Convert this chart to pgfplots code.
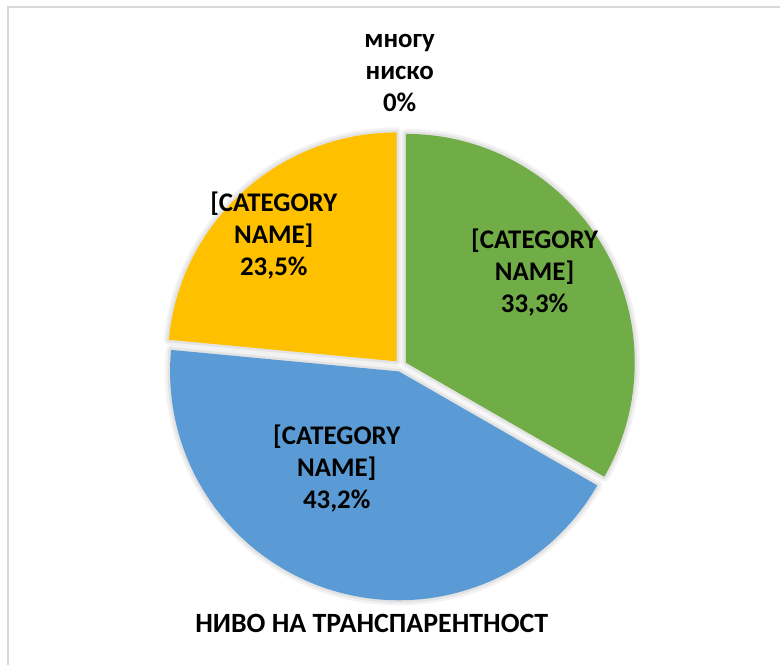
\documentclass[border=0pt]{standalone}
\usepackage{pgfplots}
\pgfplotsset{compat=1.18}
\usepackage{pgfplotstable}
\usepackage{fontspec}
\setmainfont{Carlito}

\definecolor{pieGreen}{HTML}{70AD47}
\definecolor{pieBlue}{HTML}{5B9BD5}
\definecolor{pieYellow}{HTML}{FFC000}
\definecolor{frameGray}{HTML}{D9D9D9}

% share of each level, percent (clockwise from 12 o'clock)
\pgfplotstableread{
value
0
33.3
43.2
23.5
}\piedata

\newcommand\getv[2]{\pgfplotstablegetelem{#1}{value}\of\piedata\edef#2{\pgfplotsretval}}
\getv{0}\vA \getv{1}\vB \getv{2}\vC \getv{3}\vD

% pie centre, radius and explode distance (axis units = px)
\def\cx{401}\def\cy{300}\def\rad{229}\def\expl{6}

\pgfmathsetmacro\sA{90}       \pgfmathsetmacro\eA{\sA-3.6*\vA}
\pgfmathsetmacro\sB{\eA}      \pgfmathsetmacro\eB{\sB-3.6*\vB}
\pgfmathsetmacro\sC{\eB}      \pgfmathsetmacro\eC{\sC-3.6*\vC}
\pgfmathsetmacro\sD{\eC}      \pgfmathsetmacro\eD{\sD-3.6*\vD}
\pgfmathsetmacro\xA{\cx+\expl*cos((\sA+\eA)/2)}\pgfmathsetmacro\yA{\cy+\expl*sin((\sA+\eA)/2)}
\pgfmathsetmacro\xB{\cx+\expl*cos((\sB+\eB)/2)}\pgfmathsetmacro\yB{\cy+\expl*sin((\sB+\eB)/2)}
\pgfmathsetmacro\xC{\cx+\expl*cos((\sC+\eC)/2)}\pgfmathsetmacro\yC{\cy+\expl*sin((\sC+\eC)/2)}
\pgfmathsetmacro\xD{\cx+\expl*cos((\sD+\eD)/2)}\pgfmathsetmacro\yD{\cy+\expl*sin((\sD+\eD)/2)}

\newcommand\pieslice[5]{%
  \path[#5] (axis cs:#1,#2) -- ++(#3:\rad bp)
    arc[start angle=#3, end angle=#4, radius=\rad bp] -- cycle;}
\newcommand\pct[1]{\pgfmathprintnumber[fixed,precision=1,use comma,assume math mode=true]{#1}\%}

\tikzset{
  shadowA/.style={draw=black!5, line width=10bp, line join=round},
  shadowB/.style={draw=black!11, line width=5bp, line join=round},
  lbl/.style={align=center, font=\bfseries\fontsize{27}{32}\selectfont, inner sep=0pt},
}

\begin{document}
\begin{tikzpicture}
\begin{axis}[
    x=1bp, y=1bp,
    xmin=0, xmax=781, ymin=0, ymax=666,
    hide axis, clip=false,
]
  \path (axis cs:0,0) rectangle (axis cs:781,666);
  % chart frame
  \draw[frameGray, line width=1.2bp] (axis cs:8,0) -- (axis cs:8,659) -- (axis cs:781,659);

  % soft shadows
  \pieslice{\xB}{\yB}{\sB}{\eB}{shadowA}
  \pieslice{\xC}{\yC}{\sC}{\eC}{shadowA}
  \pieslice{\xD}{\yD}{\sD}{\eD}{shadowA}
  \pieslice{\xB}{\yB}{\sB}{\eB}{shadowB}
  \pieslice{\xC}{\yC}{\sC}{\eC}{shadowB}
  \pieslice{\xD}{\yD}{\sD}{\eD}{shadowB}
  % slices
  \pieslice{\xA}{\yA}{\sA}{\eA}{fill=white}
  \pieslice{\xB}{\yB}{\sB}{\eB}{fill=pieGreen}
  \pieslice{\xC}{\yC}{\sC}{\eC}{fill=pieBlue}
  \pieslice{\xD}{\yD}{\sD}{\eD}{fill=pieYellow}

  % data labels
  \node[lbl] at (axis cs:400,593) {многу\\ниско\\\pct{\vA}};
  \node[lbl] at (axis cs:535,393) {[CATEGORY\\NAME]\\\pct{\vB}};
  \node[lbl] at (axis cs:337,197) {[CATEGORY\\NAME]\\\pct{\vC}};
  \node[lbl] at (axis cs:274,430) {[CATEGORY\\NAME]\\\pct{\vD}};

  \node[font=\bfseries\fontsize{28}{32}\selectfont, inner sep=0pt]
    at (axis cs:372,42) {НИВО НА ТРАНСПАРЕНТНОСТ};
\end{axis}
\end{tikzpicture}
\end{document}
